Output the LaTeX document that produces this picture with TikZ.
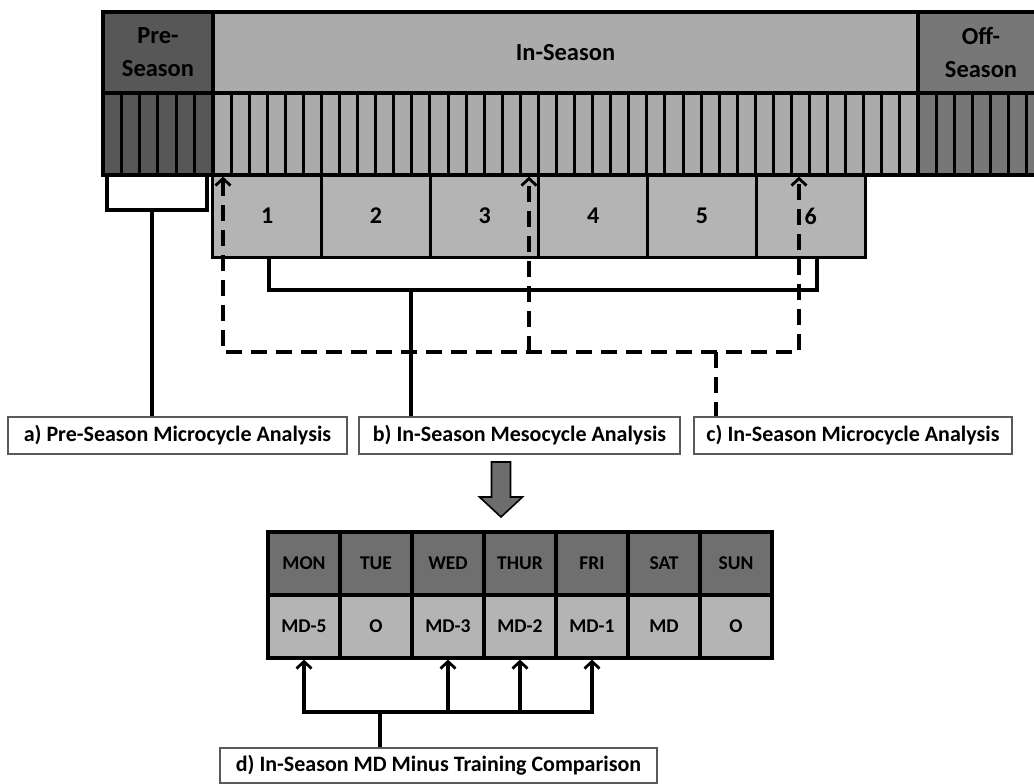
\documentclass[tikz,border=0pt]{standalone}
\usepackage{fontspec}
\setmainfont{Carlito}
\usetikzlibrary{arrows.meta}

\definecolor{pregray}{HTML}{575757}
\definecolor{ingray}{HTML}{ABABAB}
\definecolor{offgray}{HTML}{777777}
\definecolor{mesogray}{HTML}{B4B4B4}
\definecolor{dayhead}{HTML}{6F6F6F}
\definecolor{dayval}{HTML}{B4B4B4}
\definecolor{arrowgray}{HTML}{6D6D6D}

\begin{document}
\begin{tikzpicture}[x=1pt,y=-1pt,
  seasonbox/.style={draw, line width=3.2pt, inner sep=0pt, align=center, font=\bfseries\fontsize{24.5}{33}\selectfont},
  stripe/.style={line width=3pt},
  meso/.style={draw, line width=3pt, fill=mesogray, minimum width=108.67pt, minimum height=82pt, inner sep=0pt, font=\bfseries\fontsize{24}{26}\selectfont},
  labelbox/.style={draw=black!65, line width=1.3pt, fill=white, inner sep=0pt, minimum height=37pt, font=\bfseries\fontsize{22}{24}\selectfont},
  daybox/.style={draw, line width=3.2pt, minimum width=72pt, minimum height=63pt, inner sep=0pt, font=\bfseries\fontsize{19.5}{21}\selectfont},
  link/.style={line width=3.2pt},
  dlink/.style={line width=3.2pt, dash pattern=on 16pt off 9pt},
  barb/.tip={Straight Barb[length=7pt,width=15pt,line width=2.8pt]}
]
\useasboundingbox (0,0) rectangle (1034,784);
\clip (0,0) rectangle (1034,784);

% season bar
\node[seasonbox, fill=pregray, minimum width=110pt, minimum height=81pt] (pre) at (158,52.5) {Pre-\\Season};
\node[seasonbox, fill=ingray, minimum width=705pt, minimum height=81pt] (in) at (565.5,52.5) {In-Season};
\node[seasonbox, fill=offgray, minimum width=126pt, minimum height=81pt] (off) at (981,52.5) {Off-\\Season};

% weeks
\node[seasonbox, fill=pregray, minimum width=110pt, minimum height=82pt] (prewk) at (158,134) {};
\node[seasonbox, fill=ingray, minimum width=705pt, minimum height=82pt] (inwk) at (565.5,134) {};
\node[seasonbox, fill=offgray, minimum width=126pt, minimum height=82pt] (offwk) at (981,134) {};
\foreach \i in {1,...,5}
  \draw[stripe] ({103+\i*18.33},93) -- ++(0,82);
\foreach \i in {1,...,38}
  \draw[stripe] ({213+\i*18.077},93) -- ++(0,82);
\foreach \i in {1,...,6}
  \draw[stripe] ({918+\i*18},93) -- ++(0,82);

% mesocycles
\node[meso] (m1) at (267.3,216) {1};
\node[meso] (m2) at (376.0,216) {2};
\node[meso] (m3) at (484.7,216) {3};
\node[meso] (m4) at (593.3,216) {4};
\node[meso] (m5) at (702.0,216) {5};
\node[meso] (m6) at (810.7,216) {6};

% analysis labels
\node[labelbox, minimum width=339pt] (laba) at (177.5,435.5) {a) Pre-Season Microcycle Analysis};
\node[labelbox, minimum width=321pt] (labb) at (519.5,435.5) {b) In-Season Mesocycle Analysis};
\node[labelbox, minimum width=318pt] (labc) at (853,435.5) {c) In-Season Microcycle Analysis};

% a) bracket
\coordinate (a1) at (107,210);
\coordinate (a2) at (207,210);
\coordinate (astem) at (152,210);
\draw[link] (a1 |- prewk.south) -- (a1) -- (a2) -- (a2 |- prewk.south);
\draw[link] (astem) -- (astem |- laba.north);

% b) bracket
\coordinate (b1) at (269,290);
\coordinate (b2) at (817,290);
\coordinate (bstem) at (411,290);
\draw[link] (b1 |- m1.south) -- (b1) -- (b2) -- (b2 |- m6.south);
\draw[link] (bstem) -- (bstem |- labb.north);

% c) dashed
\coordinate (c1) at (223,352);
\coordinate (c2) at (529,352);
\coordinate (c3) at (799,352);
\coordinate (cstem) at (716,352);
\draw[dlink, barb-barb] (c1 |- inwk.south) -- (c1) -- (c3) -- (c3 |- inwk.south);
\draw[dlink, -barb] (c2) -- (c2 |- inwk.south);
\draw[dlink] (cstem) -- (cstem |- labc.north);

% down arrow
\draw[line width=1.6pt, fill=arrowgray] (491.5,462) -- (510.5,462) -- (510.5,497) -- (522.5,497)
  -- (501,517) -- (479.5,497) -- (491.5,497) -- cycle;

% week days
\node[daybox, fill=dayhead] (mon) at (304,563.5) {MON};
\node[daybox, fill=dayhead] (tue) at (376,563.5) {TUE};
\node[daybox, fill=dayhead] (wed) at (448,563.5) {WED};
\node[daybox, fill=dayhead] (thu) at (520,563.5) {THUR};
\node[daybox, fill=dayhead] (fri) at (592,563.5) {FRI};
\node[daybox, fill=dayhead] (sat) at (664,563.5) {SAT};
\node[daybox, fill=dayhead] (sun) at (736,563.5) {SUN};
\node[daybox, fill=dayval] (monv) at (304,626.5) {MD-5};
\node[daybox, fill=dayval] (tuev) at (376,626.5) {O};
\node[daybox, fill=dayval] (wedv) at (448,626.5) {MD-3};
\node[daybox, fill=dayval] (thuv) at (520,626.5) {MD-2};
\node[daybox, fill=dayval] (friv) at (592,626.5) {MD-1};
\node[daybox, fill=dayval] (satv) at (664,626.5) {MD};
\node[daybox, fill=dayval] (sunv) at (736,626.5) {O};

% d) comparison
\node[labelbox, minimum width=437pt, minimum height=35pt] (labd) at (438.5,765.5) {d) In-Season MD Minus Training Comparison};
\coordinate (dh) at (0,712);
\coordinate (dstem) at (380,712);
\draw[link, barb-barb] (monv.south) -- (monv.south |- dh) -- (friv.south |- dh) -- (friv.south);
\draw[link, -barb] (wedv.south |- dh) -- (wedv.south);
\draw[link, -barb] (thuv.south |- dh) -- (thuv.south);
\draw[link] (dstem) -- (dstem |- labd.north);
\end{tikzpicture}
\end{document}
